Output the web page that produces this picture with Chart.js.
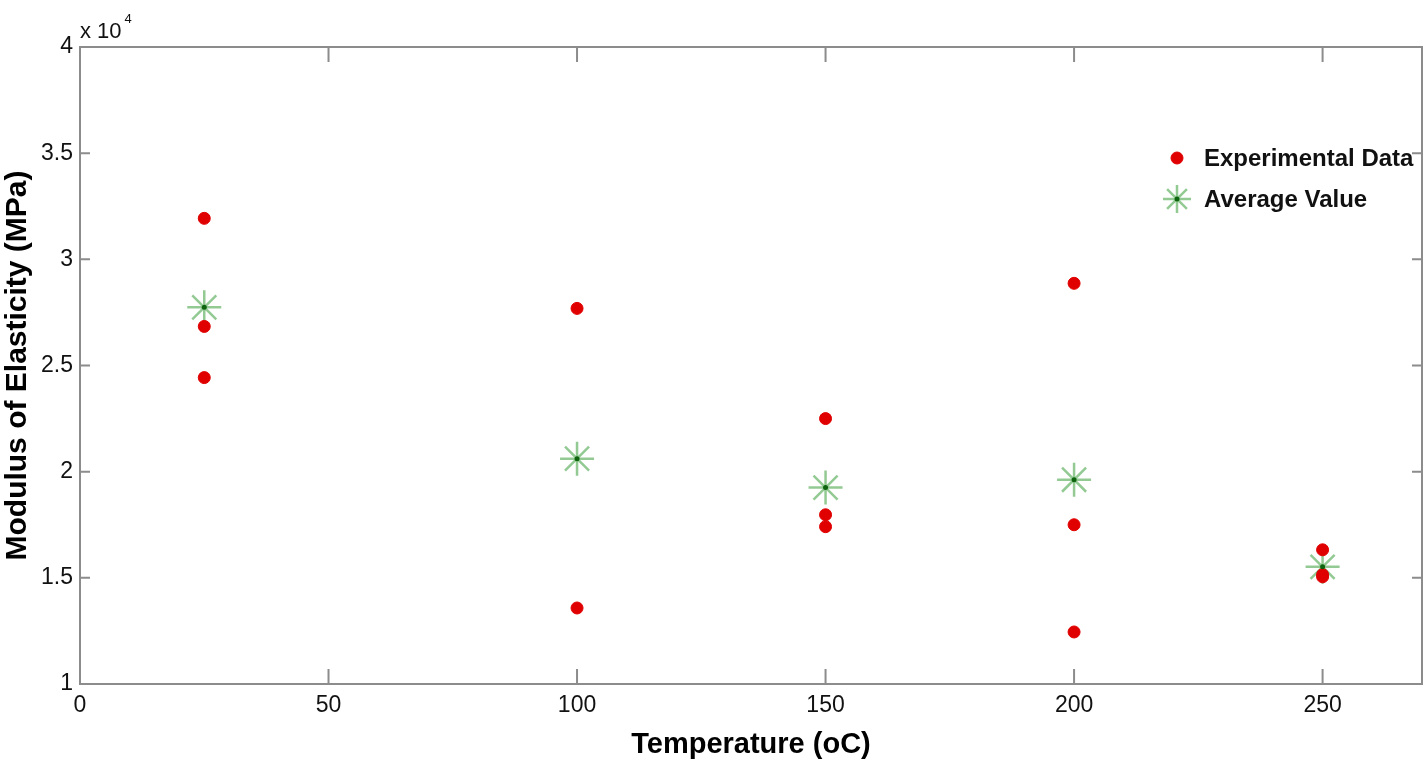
<!doctype html>
<html lang="en">
<head>
    <meta charset="utf-8">
    <script src="https://cdn.jsdelivr.net/npm/chart.js"></script>
    <style>
        html, body { margin: 0; padding: 0; background: #fff; }
        #wrap { width: 1427px; height: 766px; }
    </style>
</head>
<body>
    <div id="wrap"><canvas id="myChart" width="1427" height="766"></canvas></div>
    <script>
        // experimental points (temperature in oC, modulus in MPa)
        const temps = [25, 25, 25, 100, 100, 150, 150, 150, 200, 200, 200, 250, 250, 250];
        const modulus = [31930, 26840, 24430, 27690, 13580, 22500, 17970, 17410, 28870, 17500, 12450, 16320, 15050, 15150];
        // averages
        const avgTemps = [25, 100, 150, 200, 250];
        const avgModulus = [27740, 20610, 19250, 19620, 15520];
        const xTicks = [0, 50, 100, 150, 200, 250];
        const yTicks = [10000, 15000, 20000, 25000, 30000, 35000, 40000];

        const FONT = "'Liberation Sans', Arial, sans-serif";
        const frameColor = '#8c8c8c';

        const framePlugin = {
            id: 'frame',
            afterDatasetsDraw(chart) {
                // dark centre of the average markers
                const ctx = chart.ctx;
                const meta = chart.getDatasetMeta(1);
                ctx.save();
                ctx.fillStyle = 'rgba(0,90,0,0.9)';
                for (const el of meta.data) {
                    ctx.beginPath();
                    ctx.arc(el.x, el.y, 2.5, 0, Math.PI * 2);
                    ctx.fill();
                }
                ctx.restore();
            },
            afterDraw(chart) {
                const ctx = chart.ctx;
                const a = chart.chartArea;
                const xs = chart.scales.x, ys = chart.scales.y;
                ctx.save();
                ctx.strokeStyle = frameColor;
                ctx.lineWidth = 2;
                ctx.strokeRect(a.left, a.top, a.right - a.left, a.bottom - a.top);
                ctx.beginPath();
                for (const t of xTicks) {
                    const px = xs.getPixelForValue(t);
                    ctx.moveTo(px, a.bottom); ctx.lineTo(px, a.bottom - 15);
                    ctx.moveTo(px, a.top); ctx.lineTo(px, a.top + 15);
                }
                for (const t of yTicks) {
                    const py = ys.getPixelForValue(t);
                    ctx.moveTo(a.left, py); ctx.lineTo(a.left + 10, py);
                    ctx.moveTo(a.right, py); ctx.lineTo(a.right - 10, py);
                }
                ctx.stroke();

                // exponent label
                ctx.fillStyle = '#111';
                ctx.textBaseline = 'alphabetic';
                ctx.textAlign = 'left';
                ctx.font = '22px ' + FONT;
                ctx.fillText('x 10', a.left, a.top - 9);
                const w = ctx.measureText('x 10').width;
                ctx.font = '13px ' + FONT;
                ctx.fillText('4', a.left + 3 + w, a.top - 24);

                // legend
                const ds = chart.data.datasets;
                const items = [
                    { label: ds[0].label, d: ds[0], y: 158 },
                    { label: ds[1].label, d: ds[1], y: 199 }
                ];
                ctx.font = 'bold 24px ' + FONT;
                ctx.textBaseline = 'middle';
                for (const it of items) {
                    ctx.strokeStyle = it.d.borderColor;
                    ctx.fillStyle = it.d.backgroundColor;
                    ctx.lineWidth = it.d.borderWidth;
                    Chart.helpers.drawPoint(ctx, {
                        pointStyle: it.d.pointStyle,
                        radius: it.d.pointStyle === 'star' ? 14 : it.d.pointRadius,
                        rotation: 0,
                        borderWidth: it.d.borderWidth
                    }, 1177, it.y);
                    if (it.d.pointStyle === 'star') {
                        ctx.fillStyle = 'rgba(0,90,0,0.9)';
                        ctx.beginPath();
                        ctx.arc(1177, it.y, 2.5, 0, Math.PI * 2);
                        ctx.fill();
                    }
                    ctx.fillStyle = '#111';
                    ctx.fillText(it.label, 1204, it.y + 1);
                }
                ctx.restore();
            }
        };

        const data = {
            datasets: [{
                label: 'Experimental Data',
                data: temps.map((t, i) => ({ x: t, y: modulus[i] })),
                pointStyle: 'circle',
                pointRadius: 6,
                backgroundColor: '#e00000',
                borderColor: '#e00000',
                borderWidth: 1
            },
            {
                label: 'Average Value',
                data: avgTemps.map((t, i) => ({ x: t, y: avgModulus[i] })),
                pointStyle: 'star',
                pointRadius: 17,
                backgroundColor: 'rgba(0,120,0,0.6)',
                borderColor: 'rgba(40,150,40,0.5)',
                borderWidth: 2.5
            }]
        };

        const config = {
            type: 'scatter',
            data: data,
            options: {
                responsive: false,
                animation: false,
                layout: { autoPadding: false, padding: { top: 47, right: 5, left: 0, bottom: 0 } },
                plugins: {
                    legend: { display: false },
                    tooltip: { enabled: false }
                },
                scales: {
                    x: {
                        type: 'linear',
                        min: 0,
                        max: 270,
                        afterBuildTicks: s => { s.ticks = xTicks.map(v => ({ value: v })); },
                        afterFit: s => { s.height = 82; s.paddingLeft = 0; s.paddingRight = 0; },
                        grid: { display: false },
                        border: { display: false },
                        ticks: {
                            color: '#111',
                            padding: 0,
                            maxRotation: 0,
                            font: { size: 23, family: FONT }
                        },
                        title: {
                            display: true,
                            text: 'Temperature (oC)',
                            color: '#000',
                            padding: { top: 2 },
                            font: { size: 29, weight: 'bold', family: FONT }
                        }
                    },
                    y: {
                        type: 'linear',
                        min: 10000,
                        max: 40000,
                        afterBuildTicks: s => { s.ticks = yTicks.map(v => ({ value: v })); },
                        afterFit: s => { s.width = 80; s.paddingTop = 0; s.paddingBottom = 0; },
                        grid: { display: false, drawTicks: false, tickLength: 0 },
                        border: { display: false },
                        ticks: {
                            color: '#111',
                            padding: 7,
                            font: { size: 23, family: FONT },
                            callback: v => String(v / 10000)
                        },
                        title: {
                            display: true,
                            text: 'Modulus of Elasticity (MPa)',
                            color: '#000',
                            padding: { top: 0, bottom: 0 },
                            font: { size: 30, weight: 'bold', family: FONT }
                        }
                    }
                }
            },
            plugins: [framePlugin]
        };

        const myChart = new Chart(document.getElementById('myChart'), config);
    </script>
</body>
</html>
